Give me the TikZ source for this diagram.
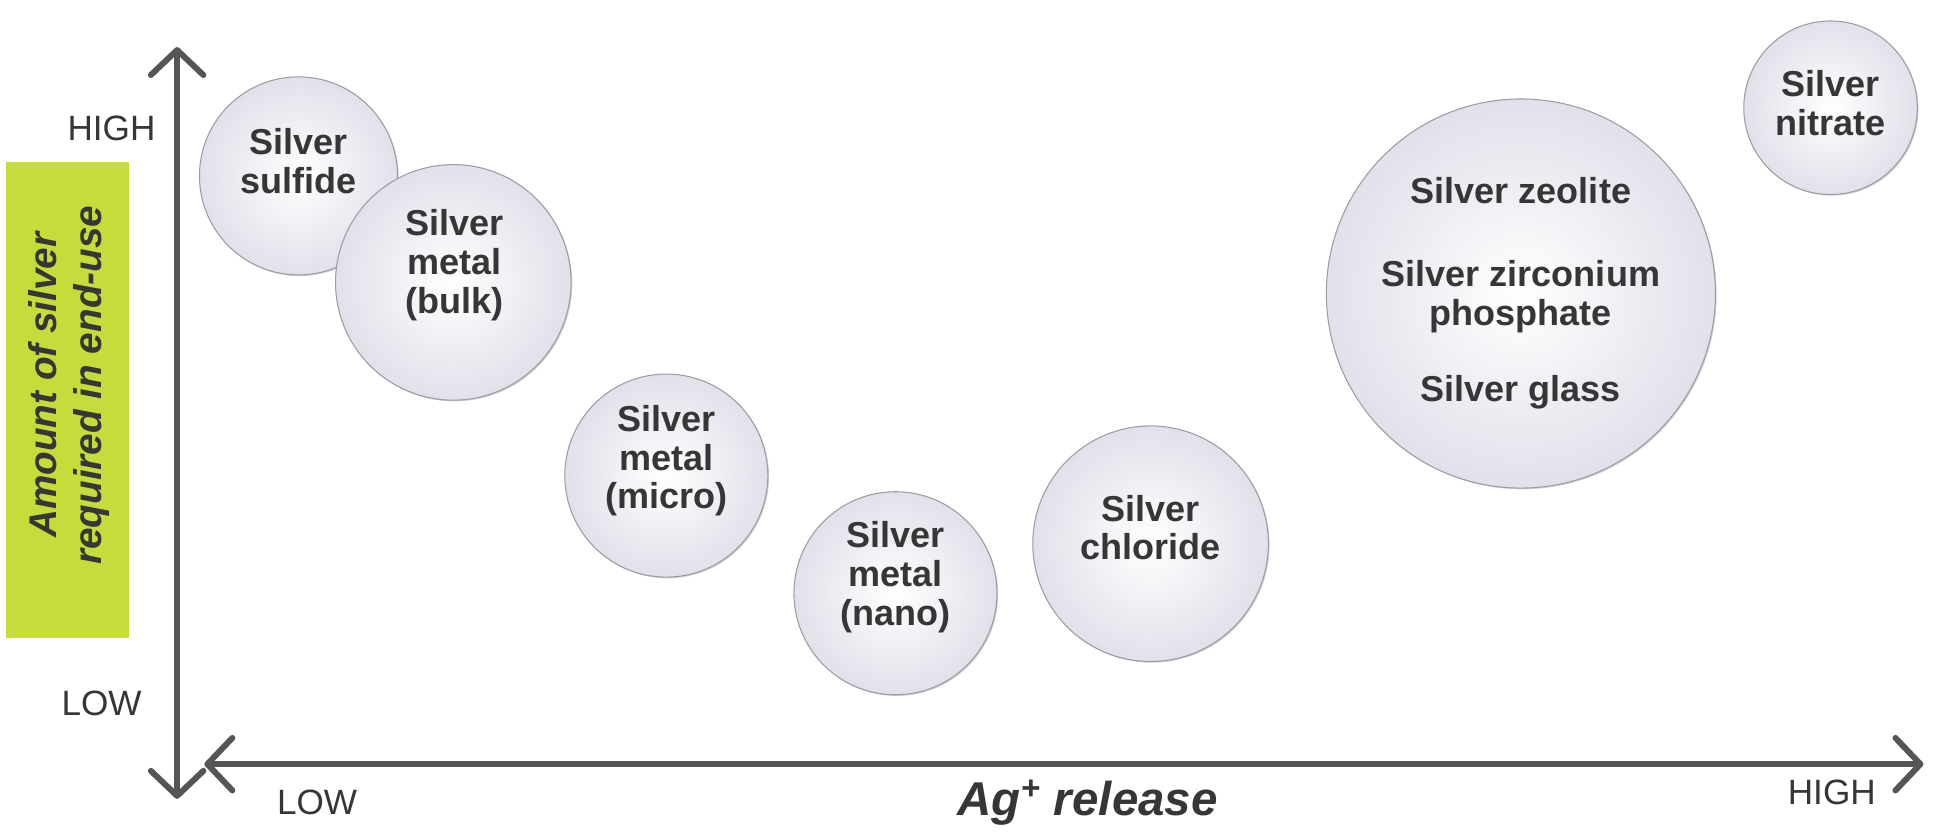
\documentclass[tikz,border=0pt]{standalone}
\usepackage{fontspec}
\setmainfont{Liberation Sans}
\usetikzlibrary{arrows.meta,shadows}

\definecolor{achse}{HTML}{555555}
\definecolor{schrift}{HTML}{363636}
\definecolor{kugel}{HTML}{E2E0EA}
\definecolor{rand}{HTML}{9C9CA4}
\definecolor{gruen}{HTML}{C6DC3A}

\tikzset{
  kreis/.style={circle, draw=rand, line width=0.6pt, shading=radial,
    inner color=white, outer color=kugel, inner sep=0pt,
    drop shadow={shadow xshift=0.7pt, shadow yshift=-0.7pt, opacity=0.35}},
  kreistext/.style={align=center, text=schrift,
    font=\fontsize{20.5}{22}\selectfont\bfseries},
  stufe/.style={text=schrift, font=\fontsize{20}{22}\selectfont},
  achsenpfeil/.style={line width=3.4pt, draw=achse,
    {Straight Barb[length=0.5cm, width=1.05cm, round]}-{Straight Barb[length=0.5cm, width=1.05cm, round]}}
}

\begin{document}
\begin{tikzpicture}[x=0.02477cm, y=-0.02477cm]
 \useasboundingbox (0,0) rectangle (1568,671);

 % Achsen
 \coordinate (oben) at (143,38);
 \coordinate (unten) at (143,645);
 \coordinate (links) at (165,617);
 \coordinate (rechts) at (1553,617);
 \draw[achsenpfeil] (oben) -- (unten);
 \draw[achsenpfeil] (links) -- (rechts);

 % Achsenbeschriftung
 \node[stufe] (yhoch) at (90,104) {HIGH};
 \node[stufe] (ytief) at (82,568) {LOW};
 \node[stufe] (xtief) at (256,648) {LOW};
 \node[stufe] (xhoch) at (1479,640) {HIGH};
 \node[text=schrift, font=\fontsize{27}{30}\selectfont\bfseries\itshape] (xname) at (878,648) {Ag\textsuperscript{+} release};

 % gruene Box
 \fill[gruen] (5,131) rectangle (104,515);
 \node[rotate=90, align=center, text=schrift, font=\fontsize{22}{25.5}\selectfont\bfseries\itshape] (yname) at (56,311) {Amount of silver\\required in end-use};

 % Kreise
 \node[kreis, minimum size=3.96cm] (sulfid) at (241,142) {};
 \node[kreis, minimum size=4.71cm] (bulk) at (366,228) {};
 \node[kreis, minimum size=4.06cm] (mikro) at (538,384) {};
 \node[kreis, minimum size=4.06cm] (nano) at (723,479) {};
 \node[kreis, minimum size=4.71cm] (chlorid) at (929,439) {};
 \node[kreis, minimum size=7.78cm] (zeolith) at (1228,237) {};
 \node[kreis, minimum size=3.47cm] (nitrat) at (1478,87) {};

 % Kreistexte
 \node[kreistext] (sulfidtext) at (241,130) {Silver\\sulfide};
 \node[kreistext] (bulktext) at (367,214) {Silver\\metal\\(bulk)};
 \node[kreistext] (mikrotext) at (538,372) {Silver\\metal\\(micro)};
 \node[kreistext] (nanotext) at (723,466) {Silver\\metal\\(nano)};
 \node[kreistext] (chloridtext) at (929,426) {Silver\\chloride};
 \node[kreistext] (zeolithtext) at (1228,237) {Silver zeolite\\[0.88cm]Silver zirconium\\phosphate\\[0.76cm]Silver glass};
 \node[kreistext] (nitrattext) at (1478,83) {Silver\\nitrate};
\end{tikzpicture}
\end{document}
